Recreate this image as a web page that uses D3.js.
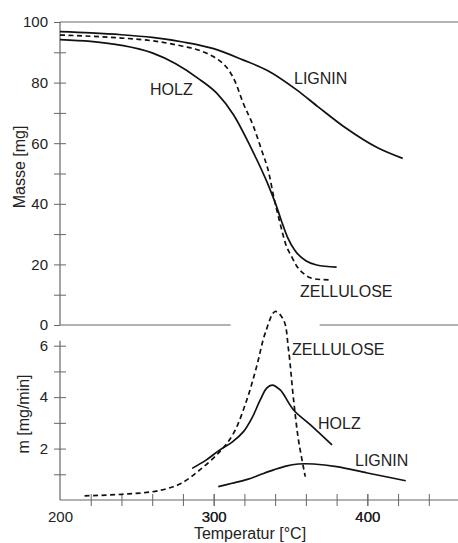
<!DOCTYPE html>
<html>
<head>
<meta charset="utf-8">
<script src="https://cdn.jsdelivr.net/npm/d3@7"></script>
<style>
  body { margin: 0; background: #fff; }
  svg { display: block; font-family: "Liberation Sans", Arial, sans-serif; }
  .tick text { font-size: 15px; fill: #222; }
  .lbl { font-size: 16px; fill: #222; }
</style>
</head>
<body>
<svg width="458" height="543"></svg>
<script>
// TG curves (mass in mg vs temperature in °C)
const holzMass = [[200,94.2],[220,93.6],[240,92.3],[260,89.8],[275,86.3],[291,81],[302,76.5],[313,69.3],[324,58.8],[335,46.8],[341,39],[344,34.5],[348,29],[353,24.5],[360,21.2],[367,19.8],[380,19.1]];
const zelluloseMass = [[200,95.7],[220,95.3],[240,94.7],[260,93.8],[280,92],[291,90.6],[300,88.5],[306,86.3],[310,84],[314,80.3],[319,73.5],[326,65.4],[331,58],[336,50],[339,42.5],[343,34],[347,26.5],[351,22.3],[354,19.5],[359,16.8],[364,15.4],[370,15],[377,14.9]];
const ligninMass = [[200,96.8],[220,96.4],[240,95.8],[260,94.9],[280,93.4],[300,91.2],[319,87.5],[335,84],[354,77.6],[368,72],[386,65],[407,58.4],[423,55]];

// DTG curves (mass loss rate in mg/min)
const zelluloseRate = [[216,0.16],[240,0.22],[260,0.32],[270,0.45],[279,0.65],[291,1.17],[304,1.88],[313,2.6],[321.6,3.9],[328,5.2],[333.6,6.5],[340,7.33],[345.5,7.0],[348.7,5.85],[352,3.9],[355.2,2.33],[359.6,0.91]];
const holzRate = [[286,1.23],[295,1.55],[304,1.95],[312,2.25],[319.4,2.66],[325,3.2],[330.3,3.89],[334.5,4.35],[338,4.47],[343.3,4.28],[352,3.5],[363,2.92],[377,2.14]];
const ligninRate = [[303,0.52],[312,0.65],[322,0.8],[331,1.0],[339,1.17],[347,1.32],[355,1.4],[365,1.4],[380,1.3],[400,1.05],[425,0.75]];

const massTicks = d3.range(0, 101, 10);
const massLabels = [0, 20, 40, 60, 80, 100];
const rateTicks = [1, 2, 3, 4, 5, 6];
const rateLabels = [2, 4, 6];
const tempTicks = d3.range(220, 441, 20);
const tempLabels = [200, 300, 400];

const svg = d3.select('svg');
const axisColor = '#666';

const x = d3.scaleLinear().domain([200, 459]).range([60, 458]);
const yMass = d3.scaleLinear().domain([0, 100]).range([325, 22]);
const yRate = d3.scaleLinear().domain([0, 6]).range([500, 345.7]);

// upper plot: left axis
const massAxis = svg.append('g')
  .attr('transform', 'translate(60,0)')
  .call(d3.axisLeft(yMass).tickValues(massTicks).tickSize(6).tickPadding(6)
    .tickFormat(d => massLabels.includes(d) ? d : ''));
massAxis.select('.domain').remove();
massAxis.selectAll('.tick line').attr('x2', d => (d === 0 || d === 100) ? 0 : 6).attr('x1', -6).attr('stroke', axisColor);

svg.append('line')
  .attr('x1', 60).attr('x2', 60).attr('y1', yMass(100)).attr('y2', yMass(0))
  .attr('stroke', axisColor).attr('stroke-width', 1.2);
// frame lines of the upper plot (bottom one broken by the dashed peak)
const frame = [[100, 200, 459], [0, 200, 311], [0, 369, 459]];
frame.forEach(f => {
  svg.append('line')
    .attr('x1', x(f[1])).attr('x2', x(f[2]))
    .attr('y1', yMass(f[0])).attr('y2', yMass(f[0]))
    .attr('stroke', axisColor).attr('stroke-width', 1.2);
});

// lower plot: left axis
const rateAxis = svg.append('g')
  .attr('transform', 'translate(60,0)')
  .call(d3.axisLeft(yRate).tickValues(rateTicks).tickSize(6).tickPadding(6)
    .tickFormat(d => rateLabels.includes(d) ? d : ''));
rateAxis.select('.domain').remove();
rateAxis.selectAll('.tick line').attr('x1', -6).attr('x2', 6).attr('stroke', axisColor);

svg.append('line')
  .attr('x1', 60).attr('x2', 60).attr('y1', yRate(6) - 5).attr('y2', yRate(0))
  .attr('stroke', axisColor).attr('stroke-width', 1.2);

// lower plot: temperature axis
const tempAxis = svg.append('g')
  .attr('transform', `translate(0,${yRate(0)})`)
  .call(d3.axisBottom(x).tickValues(tempTicks.concat(tempLabels)).tickSize(6).tickPadding(5)
    .tickFormat(d => tempLabels.includes(d) ? d : ''));
tempAxis.select('.domain').remove();
tempAxis.selectAll('.tick line')
  .attr('y1', d => d === 200 ? 0 : -6)
  .attr('y2', d => d === 200 ? 0 : 6)
  .attr('stroke', axisColor);
svg.append('line')
  .attr('x1', x(200)).attr('x2', x(459)).attr('y1', yRate(0)).attr('y2', yRate(0))
  .attr('stroke', axisColor).attr('stroke-width', 1.2);

// curves: TG curves are monotone, DTG curves have peaks
const massLine = d3.line().x(d => x(d[0])).y(d => yMass(d[1])).curve(d3.curveMonotoneX);
const rateLine = d3.line().x(d => x(d[0])).y(d => yRate(d[1])).curve(d3.curveCatmullRom);

const curves = [
  [holzMass, massLine, null],
  [zelluloseMass, massLine, '5,3.5'],
  [ligninMass, massLine, null],
  [zelluloseRate, rateLine, '5,3.5'],
  [holzRate, rateLine, null],
  [ligninRate, rateLine, null]
];
curves.forEach(c => {
  svg.append('path')
    .attr('d', c[1](c[0]))
    .attr('fill', 'none')
    .attr('stroke', '#111')
    .attr('stroke-width', 1.7)
    .attr('stroke-dasharray', c[2]);
});

// curve labels
const labels = [
  ['HOLZ', 150, 95],
  ['LIGNIN', 294, 84],
  ['ZELLULOSE', 300, 297],
  ['ZELLULOSE', 292, 355],
  ['HOLZ', 318, 429],
  ['LIGNIN', 355, 466]
];
labels.forEach(l => {
  svg.append('text').attr('class', 'lbl').attr('x', l[1]).attr('y', l[2]).text(l[0]);
});

// axis titles
svg.append('text').attr('class', 'lbl')
  .attr('transform', 'translate(25,167) rotate(-90)')
  .attr('text-anchor', 'middle').text('Masse [mg]');
svg.append('text').attr('class', 'lbl')
  .attr('transform', 'translate(29,414) rotate(-90)')
  .attr('text-anchor', 'middle').text('m [mg/min]');
svg.append('text').attr('class', 'lbl')
  .attr('x', 250).attr('y', 539)
  .attr('text-anchor', 'middle').text('Temperatur [°C]');
</script>
</body>
</html>
